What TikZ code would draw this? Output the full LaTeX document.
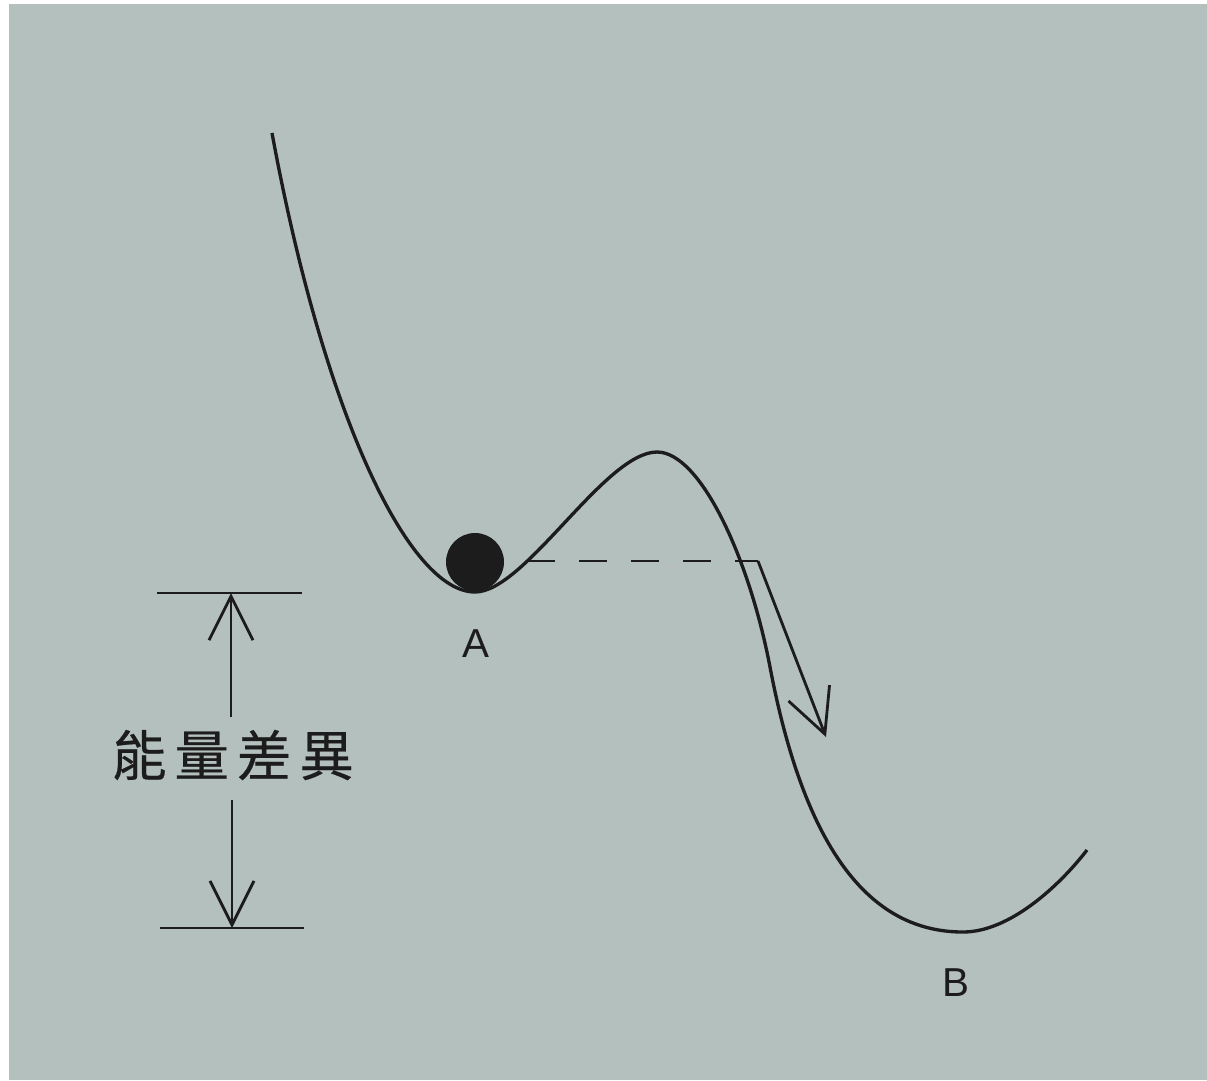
\documentclass[tikz,border=0pt]{standalone}
\usepackage{fontspec}
\setmainfont{Liberation Sans}
\newfontfamily\cjk[FakeBold=0.4]{Noto Sans CJK TC}
\usetikzlibrary{arrows.meta}
\definecolor{paper}{RGB}{180,192,190}
\definecolor{ink}{RGB}{28,28,28}
\begin{document}
\begin{tikzpicture}[x=0.02cm,y=-0.02cm,
  curve/.style={draw=ink,line width=1.9pt,line join=round},
  dimline/.style={draw=ink,line width=1.6pt},
  barb/.style={-{Straight Barb[length=0.88cm,width=0.88cm,line width=1.6pt]}},
  letter/.style={font=\fontsize{23}{23}\selectfont,text=ink,inner sep=0pt}]
\useasboundingbox (0,0) rectangle (1207,1080);
\fill[white] (0,0) rectangle (1207,1080);
\fill[paper] (9,4) rectangle (1207,1080);
% energy curve
\draw[curve] (272,133) .. controls (325,420) and (410,592) .. (475,592)
  .. controls (525,592) and (605,452) .. (657,452)
  .. controls (700,452) and (749,557) .. (770,667)
  .. controls (808,867) and (880,932) .. (963,932)
  .. controls (1010,932) and (1060,885) .. (1087,850);
% ball
\node[circle,fill=ink,minimum size=58*0.02cm,inner sep=0pt] (ball) at (475,562) {};
\coordinate (turn) at (758,561);
\coordinate (tip) at (826,737);
\draw[dimline,dash pattern=on 0.56cm off 0.48cm,dash phase=0.58cm] (ball.east |- turn) -- (turn);
\draw[dimline,barb] (turn) -- (tip);
% labels
\node[letter] (A) at (476,644) {A};
\node[letter] (B) at (956,983) {B};
% energy difference
\coordinate (topL) at (157,593);
\coordinate (topR) at (302,593);
\coordinate (topM) at (231,593);
\coordinate (botL) at (160,928);
\coordinate (botR) at (304,928);
\coordinate (botM) at (232,928);
\draw[dimline] (topL) -- (topR);
\draw[dimline] (botL) -- (botR);
\node[font=\cjk\fontsize{31}{31}\selectfont,text=ink,inner sep=0pt] (diff) at (233,755)
  {能\kern0.16cm 量\kern0.16cm 差\kern0.16cm 異};
\coordinate (upS) at (231,717);
\coordinate (dnS) at (232,800);
\draw[dimline,barb] (upS) -- (topM);
\draw[dimline,barb] (dnS) -- (botM);
\end{tikzpicture}
\end{document}
